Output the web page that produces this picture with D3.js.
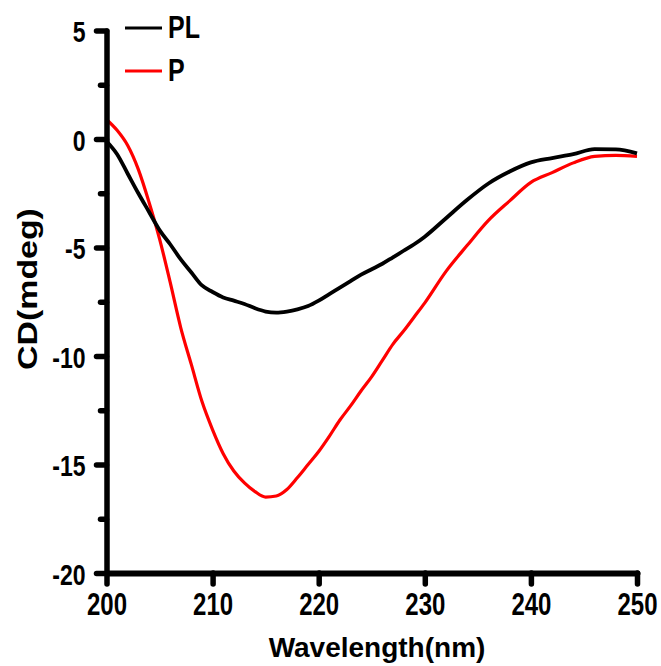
<!DOCTYPE html>
<html>
<head>
<meta charset="utf-8">
<script src="https://cdn.jsdelivr.net/npm/d3@7"></script>
<style>
  body { margin: 0; background: #fff; }
  text { font-family: "Liberation Sans", Arial, sans-serif; font-weight: bold; fill: #000; }
  .axis path, .axis line { stroke: #000; stroke-width: 5.5px; stroke-linecap: round; }
  .axis.x path { stroke-width: 6px; }
</style>
</head>
<body>
<div class="cd-plot"></div>
<script>
  // wavelength (nm) and CD (mdeg)
  const wavelength = [200, 201, 202, 203, 204, 205, 206, 207, 208, 209, 210, 211, 212, 213, 214,
    215, 216, 217, 218, 219, 220, 221, 222, 223, 224, 225, 226, 227, 228, 229, 230,
    232, 234, 236, 238, 240, 242, 244, 246, 248, 250];
  const cdPL = [-0.1, -0.7, -1.6, -2.5, -3.35, -4.2, -4.85, -5.55, -6.15, -6.75, -7.05, -7.3, -7.45, -7.6, -7.8,
    -7.95, -8.0, -7.95, -7.85, -7.7, -7.45, -7.15, -6.85, -6.55, -6.25, -6.0, -5.75, -5.45, -5.15, -4.85, -4.5,
    -3.65, -2.8, -2.05, -1.5, -1.08, -0.88, -0.7, -0.47, -0.48, -0.66];
  const cdP = [0.9, 0.4, -0.3, -1.4, -2.9, -4.6, -6.6, -8.7, -10.4, -12.1, -13.4, -14.5, -15.3, -15.85, -16.25,
    -16.5, -16.45, -16.15, -15.6, -15.0, -14.4, -13.7, -12.95, -12.3, -11.6, -10.95, -10.2, -9.45, -8.85, -8.2, -7.55,
    -6.1, -4.9, -3.75, -2.85, -2.0, -1.55, -1.1, -0.8, -0.75, -0.8];

  const seriesNames = ["PL", "P"];
  const seriesColors = ["#000000", "#ff0000"];
  const xTicks = [200, 210, 220, 230, 240, 250];
  const yTicks = [-20, -15, -10, -5, 0, 5];
  const yMinorTicks = [-17.5, -12.5, -7.5, -2.5, 2.5];

  const width = 661;
  const height = 666;
  const stretch = 1.28; // labels in the figure are drawn tall

  const svg = d3.select(".cd-plot")
    .append("svg")
    .attr("width", width)
    .attr("height", height);

  const x = d3.scaleLinear().domain([200, 250]).range([106.5, 637]);
  const y = d3.scaleLinear().domain([-20, 5]).range([573, 30.5]);

  const line = vals => d3.line()
    .x((d, i) => x(wavelength[i]))
    .y(d => y(d))
    .curve(d3.curveMonotoneX)(vals);

  // curves (red under black)
  svg.append("path")
    .attr("d", line(cdP))
    .attr("fill", "none")
    .style("stroke", seriesColors[1])
    .style("stroke-width", "3.2px");

  svg.append("path")
    .attr("d", line(cdPL))
    .attr("fill", "none")
    .style("stroke", seriesColors[0])
    .style("stroke-width", "3.8px");

  // y axis minor ticks
  svg.append("g")
    .attr("class", "axis")
    .attr("transform", `translate(${x(200)},0)`)
    .call(d3.axisLeft(y).tickValues(yMinorTicks).tickSize(6).tickSizeOuter(0).tickFormat(""))
    .call(g => g.select(".domain").remove());

  // y axis
  const yAxis = svg.append("g")
    .attr("class", "axis y")
    .attr("transform", `translate(${x(200)},0)`)
    .call(d3.axisLeft(y).tickValues(yTicks).tickSize(10).tickSizeOuter(0).tickFormat(d => String(d)));
  yAxis.selectAll("text")
    .attr("x", null).attr("y", null).attr("dy", null)
    .attr("transform", `translate(-21,11) scale(1,${stretch})`)
    .attr("text-anchor", "end")
    .attr("font-size", "23px")
    .attr("font-family", null);

  // x axis
  const xAxis = svg.append("g")
    .attr("class", "axis x")
    .attr("transform", `translate(0,${y(-20)})`)
    .call(d3.axisBottom(x).tickValues(xTicks).tickSize(11).tickSizeOuter(0).tickFormat(d => String(d)));
  xAxis.selectAll("text")
    .attr("x", null).attr("y", null).attr("dy", null)
    .attr("transform", `translate(0,42) scale(1,${stretch})`)
    .attr("text-anchor", "middle")
    .attr("font-size", "24px")
    .attr("font-family", null);

  // axis titles
  svg.append("text")
    .attr("transform", "translate(377,657)")
    .attr("text-anchor", "middle")
    .attr("font-size", "28px")
    .text("Wavelength(nm)");

  svg.append("text")
    .attr("transform", "translate(37,289) rotate(-90) scale(1.21,1)")
    .attr("text-anchor", "middle")
    .attr("font-size", "28px")
    .text("CD(mdeg)");

  // legend
  const legend = svg.selectAll(".legend")
    .data(seriesNames)
    .enter()
    .append("g")
    .attr("class", "legend")
    .attr("transform", (d, i) => `translate(125,${28 + i * 43})`);

  legend.append("line")
    .attr("x1", 0).attr("x2", 37)
    .style("stroke", (d, i) => seriesColors[i])
    .style("stroke-width", "3.2px");

  legend.append("text")
    .attr("transform", `translate(43,10) scale(1,${stretch})`)
    .attr("font-size", "25px")
    .text(d => d);
</script>
</body>
</html>
